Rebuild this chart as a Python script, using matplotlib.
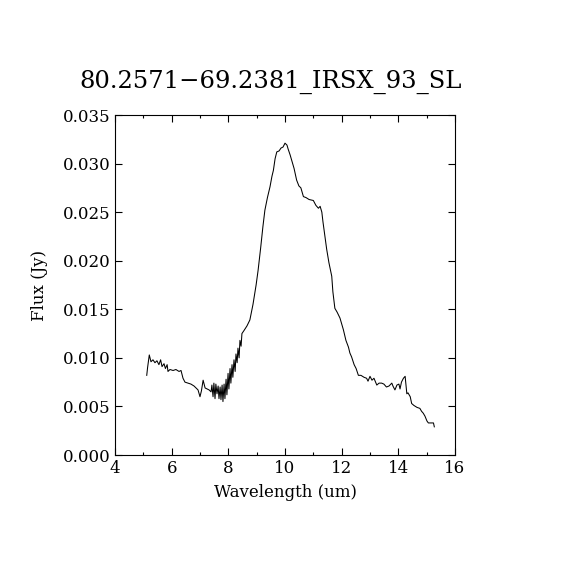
import numpy as np
import matplotlib
matplotlib.use('Agg')
import matplotlib.pyplot as plt
from matplotlib.ticker import MultipleLocator

# spectrum
wave = [5.12, 5.15, 5.21, 5.27, 5.34, 5.41, 5.48, 5.55, 5.61, 5.66, 5.73, 5.78,
        5.84, 5.87, 5.94, 6.05, 6.15, 6.26, 6.33, 6.40, 6.47, 6.58, 6.68, 6.79,
        6.86, 6.93, 7.00, 7.05, 7.11, 7.18, 7.25, 7.32, 7.39, 7.42, 7.46, 7.49,
        7.53, 7.56, 7.60, 7.64, 7.67, 7.71, 7.74, 7.78, 7.81, 7.85, 7.88, 7.92,
        7.95, 7.99, 8.02, 8.06, 8.09, 8.13, 8.16, 8.20, 8.24, 8.27, 8.31, 8.34,
        8.38, 8.41, 8.45, 8.48, 8.55, 8.66, 8.76, 8.87, 8.98, 9.05, 9.14, 9.22,
        9.29, 9.38, 9.47, 9.54, 9.59, 9.65, 9.71, 9.79, 9.86, 9.93, 10.00, 10.07,
        10.11, 10.18, 10.25, 10.32, 10.41, 10.49, 10.56, 10.65, 10.74, 10.85, 11.00,
        11.09, 11.18, 11.24, 11.30, 11.34, 11.41, 11.47, 11.55, 11.65, 11.69, 11.76,
        11.84, 11.94, 12.06, 12.15, 12.24, 12.29, 12.35, 12.44, 12.51, 12.59, 12.68,
        12.79, 12.88, 12.93, 13.00, 13.07, 13.14, 13.24, 13.32, 13.41, 13.49, 13.58,
        13.67, 13.77, 13.81, 13.88, 13.95, 14.02, 14.06, 14.11, 14.18, 14.24, 14.30,
        14.34, 14.42, 14.47, 14.55, 14.66, 14.76, 14.82, 14.88, 14.94, 15.01, 15.06,
        15.15, 15.24, 15.27]
flux = [0.0082, 0.0090, 0.0103, 0.0096, 0.0098, 0.0095, 0.0097, 0.0093, 0.0098, 0.0091, 0.0094, 0.0089,
        0.0093, 0.0086, 0.0088, 0.0087, 0.0088, 0.0086, 0.0087, 0.0079, 0.0075, 0.0074, 0.0073, 0.0071,
        0.0069, 0.0067, 0.0060, 0.0066, 0.0077, 0.0069, 0.0068, 0.0067, 0.0065, 0.0072, 0.0060, 0.0074,
        0.0058, 0.0073, 0.0063, 0.0071, 0.0058, 0.0070, 0.0057, 0.0072, 0.0055, 0.0073, 0.0058, 0.0078,
        0.0062, 0.0084, 0.0068, 0.0089, 0.0074, 0.0093, 0.0080, 0.0098, 0.0086, 0.0104, 0.0095, 0.0110,
        0.0100, 0.0118, 0.0112, 0.0125, 0.0128, 0.0133, 0.0139, 0.0155, 0.0175, 0.0190, 0.0213, 0.0235,
        0.0252, 0.0265, 0.0276, 0.0287, 0.0293, 0.0305, 0.0312, 0.0313, 0.0316, 0.0317, 0.0321, 0.0319,
        0.0315, 0.0309, 0.0302, 0.0295, 0.0283, 0.0277, 0.0275, 0.0266, 0.0265, 0.0263, 0.0262,
        0.0257, 0.0254, 0.0256, 0.0250, 0.0240, 0.0225, 0.0212, 0.0198, 0.0184, 0.0168, 0.0151,
        0.0147, 0.0141, 0.0129, 0.0118, 0.0111, 0.0105, 0.0101, 0.0093, 0.0089, 0.0082, 0.0082,
        0.0080, 0.0079, 0.0076, 0.0081, 0.0077, 0.0079, 0.0072, 0.0074, 0.0074, 0.0073, 0.0070,
        0.0071, 0.0074, 0.0071, 0.0067, 0.0072, 0.0073, 0.0068, 0.0075, 0.0079, 0.0081, 0.0063,
        0.0064, 0.0060, 0.0053, 0.0051, 0.0049, 0.0048, 0.0045, 0.0043, 0.0040, 0.0035, 0.0033,
        0.0033, 0.0033, 0.0029]

title = '80.2571\u221269.2381_IRSX_93_SL'

plt.rcParams['font.family'] = ['DejaVu Serif']

fig = plt.figure(figsize=(5.7, 5.7), dpi=100)
ax = fig.add_axes([115/570, 115/570, 340/570, 340/570])
ax.plot(wave, flux, color='black', lw=0.75)

ax.set_xlim(4, 16)
ax.set_ylim(0, 0.035)
ax.xaxis.set_major_locator(MultipleLocator(2))
ax.xaxis.set_minor_locator(MultipleLocator(1))
ax.yaxis.set_major_locator(MultipleLocator(0.005))
ax.yaxis.set_major_formatter(plt.FuncFormatter(lambda v, p: '%.3f' % v))
ax.tick_params(which='both', direction='in', top=True, right=True, labelsize=12, width=0.8)
ax.tick_params(which='major', length=5)
ax.tick_params(which='minor', length=2.5)
for s in ax.spines.values():
    s.set_linewidth(0.8)

ax.set_xlabel('Wavelength (um)', fontsize=12, labelpad=5)
ax.set_ylabel('Flux (Jy)', fontsize=12, labelpad=10)
fig.text(271/570, 1 - 82/570, title, ha='center', va='center', fontsize=17.5)

fig.savefig('out.png', dpi=100)
